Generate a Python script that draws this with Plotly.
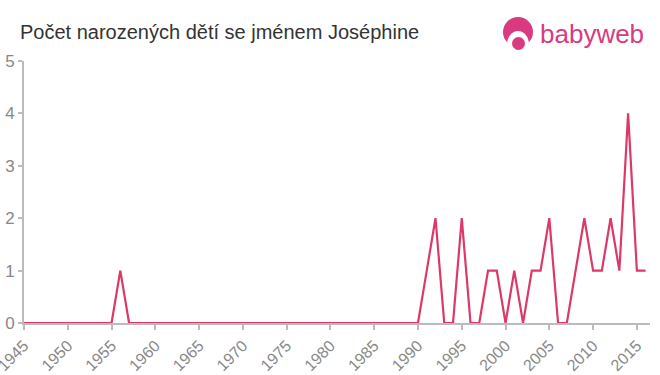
import plotly.graph_objects as go

years = list(range(1945, 2017))
counts_map = {1956: 1, 1991: 1, 1992: 2, 1995: 2, 1998: 1, 1999: 1, 2001: 1,
              2003: 1, 2004: 1, 2005: 2, 2008: 1, 2009: 2, 2010: 1, 2011: 1,
              2012: 2, 2013: 1, 2014: 4, 2015: 1, 2016: 1}
counts = [counts_map.get(y, 0) for y in years]
x_ticks = list(range(1945, 2020, 5))
y_ticks = [0, 1, 2, 3, 4, 5]

title = "Počet narozených dětí se jménem Joséphine"
line_color = "#dc3868"
brand = "#d93a80"

L, R, T, B = 24, 10, 61, 52
W, H = 660, 375
PW, PH = W - L - R, H - T - B


def px(x):
    return (x - L) / PW


def py(y):
    return (H - B - y) / PH


fig = go.Figure()
fig.add_trace(go.Scatter(x=years, y=counts, mode="lines",
                         line=dict(color=line_color, width=2.2),
                         hoverinfo="x+y", showlegend=False))

fig.update_layout(
    width=W, height=H,
    margin=dict(l=L, r=R, t=T, b=B),
    paper_bgcolor="white", plot_bgcolor="white",
    font=dict(family="Liberation Sans, Arial, sans-serif", color="#888"),
    title=dict(text=title, x=20 / W, xanchor="left", y=1 - 32 / H, yanchor="middle",
               yref="container", automargin=False,
               font=dict(size=20, color="#333", family="Liberation Sans, Arial, sans-serif")),
    xaxis=dict(range=[1945, 2016.5], tickvals=x_ticks, tickangle=-45, automargin=False,
               ticklabeloverflow="allow",
               showgrid=False, zeroline=False, showline=True, linecolor="#bbb",
               linewidth=2, ticks="outside", ticklen=5, tickcolor="#bbb", tickwidth=2,
               tickfont=dict(size=16, color="#888")),
    yaxis=dict(range=[0, 5], tickvals=y_ticks, showgrid=False, zeroline=False,
               automargin=False, ticklabeloverflow="allow",
               showline=True, linecolor="#bbb", linewidth=2, ticks="outside",
               ticklen=4, tickcolor="#bbb", tickwidth=2,
               tickfont=dict(size=17, color="#888")),
)

# babyweb logo approximation
fig.add_shape(type="circle", xref="paper", yref="paper",
              x0=px(503), x1=px(533), y0=py(47), y1=py(17),
              fillcolor=brand, line=dict(width=0))
fig.add_shape(type="circle", xref="paper", yref="paper",
              x0=px(507), x1=px(529), y0=py(58), y1=py(31),
              fillcolor="white", line=dict(width=0))
fig.add_shape(type="circle", xref="paper", yref="paper",
              x0=px(512), x1=px(525), y0=py(50), y1=py(37),
              fillcolor=brand, line=dict(width=0))
fig.add_annotation(text="babyweb", xref="paper", yref="paper",
                   x=px(538), y=py(34),
                   xanchor="left", yanchor="middle", showarrow=False,
                   font=dict(size=26, color=brand, family="Liberation Sans, Arial, sans-serif"))

fig.write_html("out.html", config={"displayModeBar": False},
               post_script="document.body.style.margin='0';document.body.style.overflow='hidden';")
